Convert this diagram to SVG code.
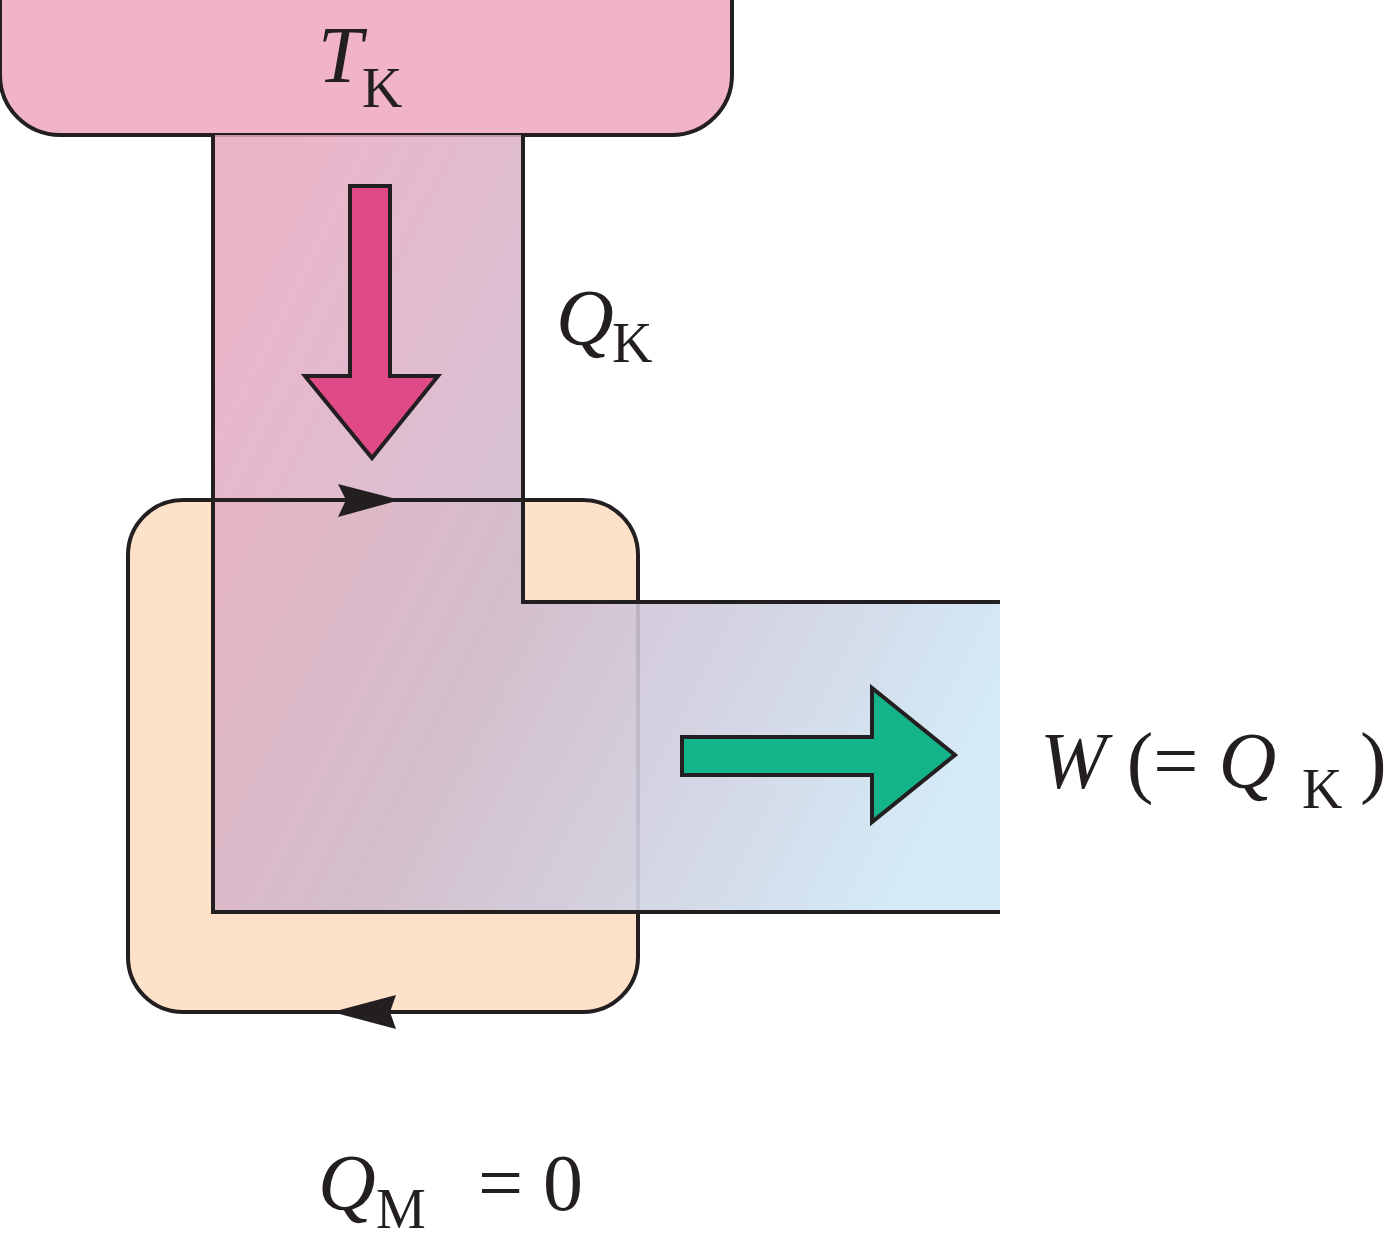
<svg xmlns="http://www.w3.org/2000/svg" width="1400" height="1254" viewBox="0 0 1400 1254">
<defs>
<linearGradient id="g" x1="213" y1="300" x2="1000" y2="700" gradientUnits="userSpaceOnUse">
<stop offset="0" stop-color="#e8a8c0" stop-opacity="0.85"/>
<stop offset="0.45" stop-color="#cdb8cc" stop-opacity="0.85"/>
<stop offset="1" stop-color="#d4ebf7"/>
</linearGradient>
<style>
.o{stroke:#231f20;stroke-width:4}
.t{font-family:"Liberation Serif",serif;fill:#231f20}
</style>
</defs>
<g id="hot"><path class="o" d="M0,-10 H732 V75 A60,60 0 0 1 672,135 H60 A60,60 0 0 1 0,75 Z" fill="#f0b3c8"/>
<text class="t" x="318" y="82" font-size="80" font-style="italic">T</text><text class="t" x="362" y="107" font-size="56">K</text></g>
<g id="engine"><rect class="o" x="128" y="500" width="510" height="512" rx="55" fill="#fde1c8"/></g>
<g id="flow"><path d="M213,135 H523 V602 H1000 V912 H213 Z" fill="url(#g)"/>
<path class="o" fill="none" d="M213,135 V912 H1000 M523,135 V602 H1000"/></g>
<g id="connectors">
<line class="o" x1="213" y1="500" x2="523" y2="500"/>
<polygon points="400,500 338,484 346,500 338,517" fill="#231f20"/>
<polygon points="332,1012 396,995 390,1012 396,1029" fill="#231f20"/>
<polygon class="o" stroke-width="3" fill="#e04a86" points="350,186 390,186 390,376 438,376 372,458 305,376 350,376"/>
<polygon class="o" stroke-width="3" fill="#14b48a" points="682,737 872,737 872,688 955,755 872,822 872,775 682,775"/>
</g>
<g id="labels">
<text class="t" x="556" y="345" font-size="80" font-style="italic">Q</text><text class="t" x="612" y="362" font-size="56">K</text>
<text class="t" x="1040" y="788" font-size="80"><tspan font-style="italic">W</tspan> (= <tspan font-style="italic">Q</tspan></text><text class="t" x="1302" y="808" font-size="56">K</text><text class="t" x="1360" y="788" font-size="80">)</text>
<text class="t" x="318" y="1210" font-size="80" font-style="italic">Q</text><text class="t" x="376" y="1228" font-size="56">M</text><text class="t" x="478" y="1210" font-size="80">= 0</text>
</g>
</svg>
